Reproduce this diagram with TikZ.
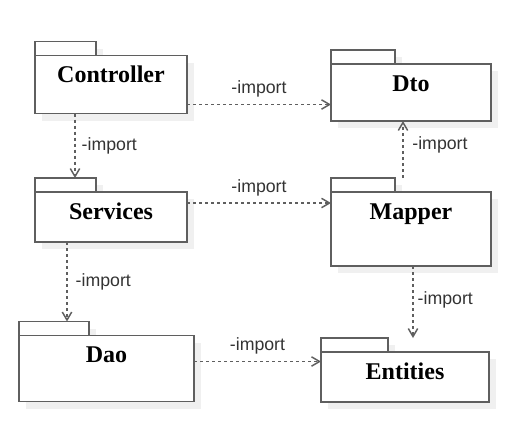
\documentclass[tikz,border=0pt]{standalone}
\usepackage{fontspec}
\setmainfont{Liberation Serif}
\setsansfont{Liberation Sans}
\usepackage{tikz}
\usetikzlibrary{arrows.meta,shadows}

\definecolor{pkgline}{HTML}{5F5F5F}
\definecolor{deptext}{HTML}{333333}

\begin{document}
\begin{tikzpicture}[x=0.75pt,y=-0.75pt,
	pkgshadow/.style={drop shadow={shadow xshift=5.25pt,shadow yshift=-5.25pt,fill=black!6,opacity=1}},
	tab/.style={draw=pkgline,line width=1.1pt,fill=white,pkgshadow,minimum height=10.5pt,inner sep=0,outer sep=0,anchor=north west},
	package/.style={draw=pkgline,line width=1.1pt,fill=white,pkgshadow,inner sep=0,outer sep=0,anchor=north west},
	pname/.style={anchor=base,yshift=-20.25pt,inner sep=0,font=\bfseries\fontsize{18pt}{20pt}\selectfont},
	dep/.style={->,>={Straight Barb[length=6pt,width=7pt]},draw=pkgline,line width=1.1pt,dash pattern=on 2.25pt off 2.25pt},
	lbl/.style={inner sep=0,text=deptext,font=\sffamily\fontsize{13.3pt}{16pt}\selectfont},
	lblv/.style={lbl,anchor=west,xshift=4.5pt,yshift=-1pt},
	lblh/.style={lbl,midway,yshift=11.5pt}]

\useasboundingbox (0,0) rectangle (526,436);

\node[tab,minimum width=45.75pt]	(ctrltab)	at (35,41.5)	{};
\node[package,minimum width=114pt,minimum height=43.5pt,label={[pname]north:Controller}]	(ctrl)	at (ctrltab.south west)	{};

\node[tab,minimum width=48pt]	(dtotab)	at (331,50)	{};
\node[package,minimum width=120pt,minimum height=42.75pt,label={[pname]north:Dto}]	(dto)	at (dtotab.south west)	{};

\node[tab,minimum width=45.75pt]	(servtab)	at (35,178)	{};
\node[package,minimum width=114pt,minimum height=37.5pt,label={[pname]north:Services}]	(serv)	at (servtab.south west)	{};

\node[tab,minimum width=48pt]	(maptab)	at (331,178)	{};
\node[package,minimum width=120pt,minimum height=55.5pt,label={[pname]north:Mapper}]	(mapper)	at (maptab.south west)	{};

\node[tab,minimum width=52.5pt]	(daotab)	at (19,321.5)	{};
\node[package,minimum width=131.25pt,minimum height=49.5pt,label={[pname]north:Dao}]	(dao)	at (daotab.south west)	{};

\node[tab,minimum width=50.25pt]	(enttab)	at (321,338)	{};
\node[package,minimum width=126pt,minimum height=37.5pt,label={[pname]north:Entities}]	(ent)	at (enttab.south west)	{};

% imports
\coordinate (c1) at ([yshift=-15pt]ctrl.east);
\coordinate (c2) at ([yshift=10.5pt]serv.east);
\coordinate (c3) at ([yshift=5.25pt]dao.east);
\coordinate (c4) at ([xshift=-27pt]ctrl.south);
\coordinate (c5) at ([xshift=-33pt]serv.south);
\coordinate (c6) at ([xshift=-6pt]mapper.north);
\coordinate (c7) at ([xshift=1.5pt]mapper.south);

\draw[dep] (c1) -- (c1 -| dto.west)	node[lblh] {-import};
\draw[dep] (c2) -- (c2 -| mapper.west)	node[lblh] {-import};
\draw[dep] (c3) -- (c3 -| ent.west)	node[lblh] {-import};
\draw[dep] (c4) -- (c4 |- servtab.north)	node[lblv,pos=.48] {-import};
\draw[dep] (c5) -- (c5 |- daotab.north)	node[lblv,pos=.48,xshift=1.5pt] {-import};
\draw[dep] (c6 |- maptab.north) -- (c6 |- dto.south)	node[lblv,pos=.6,xshift=2pt] {-import};
\draw[dep] (c7) -- (c7 |- enttab.north)	node[lblv,pos=.45,xshift=-1.5pt] {-import};
\end{tikzpicture}
\end{document}
